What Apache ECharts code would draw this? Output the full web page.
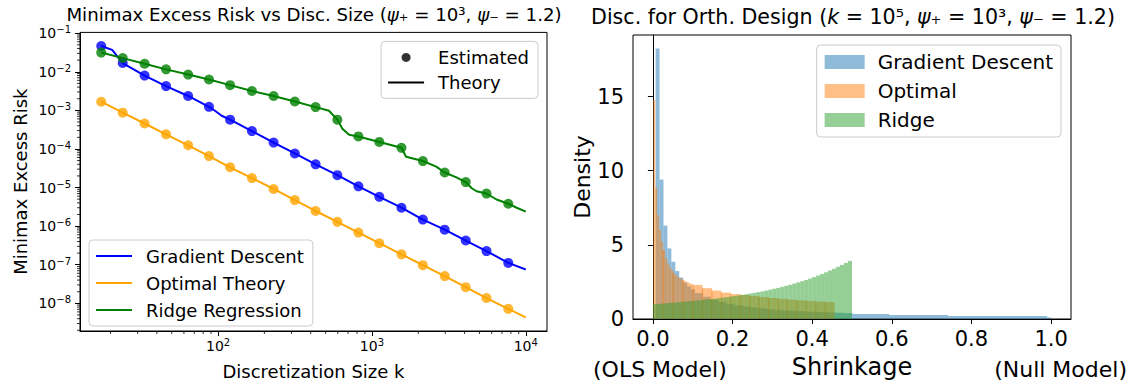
<!DOCTYPE html>
<html>
<head>
<meta charset="utf-8">
<script src="https://cdn.jsdelivr.net/npm/echarts@6.0.0/dist/echarts.min.js"></script>
<style>
html,body{margin:0;padding:0;background:#fff;}
#chart{width:1129px;height:385px;}
</style>
</head>
<body>
<div id="chart"></div>
<script>
// ---------------- Left panel: minimax excess risk ----------------
const kValues = [17.4, 24.0, 33.3, 45.9, 63.9, 87.3, 119.7, 166, 229.6, 315.5, 430.5, 596, 817, 1117, 1556, 2143, 2972, 4073, 5557, 7695];
const gdEstimated = [0.0466, 0.01683, 7.96e-3, 4.25e-3, 2.36e-3, 1.233e-3, 5.74e-4, 2.90e-4, 1.46e-4, 7.64e-5, 4.0e-5, 2.09e-5, 1.077e-5, 5.74e-6, 3.0e-6, 1.48e-6, 8.09e-7, 4.24e-7, 2.26e-7, 1.115e-7];
const optEstimated = [1.675e-3, 8.72e-4, 4.57e-4, 2.39e-4, 1.245e-4, 6.52e-5, 3.35e-5, 1.755e-5, 9.18e-6, 4.73e-6, 2.47e-6, 1.295e-6, 6.82e-7, 3.61e-7, 1.86e-7, 9.73e-8, 5.09e-8, 2.62e-8, 1.37e-8, 7.18e-9];
const ridgeEstimated = [0.0314, 0.0226, 0.01615, 0.01154, 8.45e-3, 6.30e-3, 4.50e-3, 3.17e-3, 2.36e-3, 1.695e-3, 1.213e-3, 5.74e-4, 2.11e-4, 1.52e-4, 1.069e-4, 4.86e-5, 2.45e-5, 1.387e-5, 6.97e-6, 3.80e-6];

const gdTheoryK = [17.4, 20.5, 22.2, 24.0, 33.3, 45.9, 63.9, 87.3, 95.5, 105.5, 119.7, 166, 229.6, 315.5, 430.5, 596, 817, 1117, 1556, 2143, 2972, 4073, 5557, 7695, 10000];
const gdTheoryRisk = [0.0466, 0.0368, 0.0248, 0.01683, 7.96e-3, 4.25e-3, 2.36e-3, 1.233e-3, 9.75e-4, 7.26e-4, 5.74e-4, 2.90e-4, 1.46e-4, 7.64e-5, 4.0e-5, 2.09e-5, 1.077e-5, 5.74e-6, 3.0e-6, 1.48e-6, 8.09e-7, 4.24e-7, 2.26e-7, 1.115e-7, 7.5e-8];
const optTheoryK = [17.4, 24.0, 33.3, 45.9, 63.9, 87.3, 119.7, 166, 229.6, 315.5, 430.5, 596, 817, 1117, 1556, 2143, 2972, 4073, 5557, 7695, 10000];
const optTheoryRisk = [1.675e-3, 8.72e-4, 4.57e-4, 2.39e-4, 1.245e-4, 6.52e-5, 3.35e-5, 1.755e-5, 9.18e-6, 4.73e-6, 2.47e-6, 1.295e-6, 6.82e-7, 3.61e-7, 1.86e-7, 9.73e-8, 5.09e-8, 2.62e-8, 1.37e-8, 7.18e-9, 4.31e-9];
const ridgeTheoryK = [17.4, 24.0, 33.3, 45.9, 63.9, 87.3, 119.7, 166, 229.6, 315.5, 430.5, 526, 596, 643, 711, 817, 1117, 1556, 1667, 2143, 2618, 2972, 3540, 4073, 4436, 4786, 5557, 6460, 7695, 8730, 10000];
const ridgeTheoryRisk = [0.0314, 0.0226, 0.01615, 0.01154, 8.45e-3, 6.30e-3, 4.50e-3, 3.17e-3, 2.36e-3, 1.695e-3, 1.213e-3, 9.75e-4, 5.74e-4, 3.33e-4, 2.33e-4, 2.11e-4, 1.52e-4, 1.069e-4, 6.30e-5, 4.86e-5, 3.49e-5, 2.45e-5, 1.83e-5, 1.387e-5, 9.75e-6, 8.02e-6, 6.97e-6, 4.90e-6, 3.80e-6, 3.0e-6, 2.38e-6];

const xMinorTicks = [20, 30, 40, 50, 60, 70, 80, 90, 200, 300, 400, 500, 600, 700, 800, 900, 2000, 3000, 4000, 5000, 6000, 7000, 8000, 9000];
const yMinorTicks = [2e-9,3e-9,4e-9,5e-9,6e-9,7e-9,8e-9,9e-9, 2e-8,3e-8,4e-8,5e-8,6e-8,7e-8,8e-8,9e-8, 2e-7,3e-7,4e-7,5e-7,6e-7,7e-7,8e-7,9e-7, 2e-6,3e-6,4e-6,5e-6,6e-6,7e-6,8e-6,9e-6, 2e-5,3e-5,4e-5,5e-5,6e-5,7e-5,8e-5,9e-5, 2e-4,3e-4,4e-4,5e-4,6e-4,7e-4,8e-4,9e-4, 2e-3,3e-3,4e-3,5e-3,6e-3,7e-3,8e-3,9e-3, 2e-2,3e-2,4e-2,5e-2,6e-2,7e-2,8e-2,9e-2];

// ---------------- Right panel: shrinkage histograms ----------------
const gdEdges = [0.0068, 0.0167, 0.0266, 0.0365, 0.0464, 0.0563, 0.0662, 0.0761, 0.086, 0.0959, 0.1058, 0.1256, 0.1454, 0.1652, 0.185, 0.2048, 0.2246, 0.2444, 0.2642, 0.284, 0.3038, 0.3236, 0.3434, 0.3632, 0.383, 0.4028, 0.4226, 0.4424, 0.4622, 0.482, 0.5018, 0.593, 0.742, 0.99, 1.0];
const gdDensity = [18.24, 9.4, 6.3, 4.76, 3.86, 3.23, 2.8, 2.45, 2.2, 2.0, 1.75, 1.5, 1.3, 1.15, 1.02, 0.92, 0.84, 0.78, 0.72, 0.67, 0.63, 0.59, 0.56, 0.53, 0.5, 0.48, 0.46, 0.44, 0.42, 0.40, 0.34, 0.27, 0.20, 0.11];
const optEdges = [0.0008, 0.0058, 0.0108, 0.0158, 0.0208, 0.0258, 0.0308, 0.0358, 0.0408, 0.0458, 0.0508, 0.0558, 0.0608, 0.0658, 0.0708, 0.0758, 0.0808, 0.0858, 0.0908, 0.0958, 0.1008, 0.1245, 0.1482, 0.1719, 0.1956, 0.2193, 0.243, 0.2667, 0.2904, 0.3141, 0.3378, 0.3615, 0.3852, 0.4089, 0.4326, 0.4563];
const optDensity = [14.76, 8.87, 7.0, 6.0, 5.2, 4.65, 4.1, 3.75, 3.5, 3.3, 3.1, 2.95, 2.85, 2.75, 2.68, 2.6, 2.53, 2.47, 2.41, 2.36, 2.3, 2.08, 1.92, 1.78, 1.68, 1.62, 1.55, 1.48, 1.42, 1.36, 1.31, 1.26, 1.22, 1.18, 1.15];
const ridgeEdges = [0, 0.01, 0.02, 0.03, 0.04, 0.05, 0.06, 0.07, 0.08, 0.09, 0.1, 0.11, 0.12, 0.13, 0.14, 0.15, 0.16, 0.17, 0.18, 0.19, 0.2, 0.21, 0.22, 0.23, 0.24, 0.25, 0.26, 0.27, 0.28, 0.29, 0.3, 0.31, 0.32, 0.33, 0.34, 0.35, 0.36, 0.37, 0.38, 0.39, 0.4, 0.41, 0.42, 0.43, 0.44, 0.45, 0.46, 0.47, 0.48, 0.49, 0.5];
const ridgeDensity = [0.99, 1.01, 1.04, 1.06, 1.09, 1.11, 1.14, 1.16, 1.18, 1.21, 1.23, 1.26, 1.28, 1.31, 1.34, 1.37, 1.40, 1.44, 1.47, 1.51, 1.55, 1.59, 1.63, 1.67, 1.72, 1.76, 1.81, 1.86, 1.92, 1.98, 2.04, 2.10, 2.17, 2.24, 2.31, 2.39, 2.47, 2.55, 2.63, 2.73, 2.83, 2.93, 3.04, 3.15, 3.27, 3.39, 3.52, 3.65, 3.78, 3.92];
const shrinkTicks = [0, 0.2, 0.4, 0.6, 0.8, 1.0];

// ---------------- helpers ----------------
const FONT = 'DejaVu Sans';
const pairs = (xs, ys) => xs.map((x, i) => [x, ys[i]]);
const bins = (edges, dens) => dens.map((d, i) => [edges[i], edges[i + 1], d]);
function powLabel(v) {
  const e = Math.log10(v), r = Math.round(e);
  if (Math.abs(e - r) > 1e-6) return '';
  return '{b|10}{s|' + String(r).replace('-', '\u2212') + '}';
}
const powRich = {
  b: {fontSize: 14, lineHeight: 14, fontFamily: FONT, color: '#000'},
  s: {fontSize: 10, lineHeight: 10, fontFamily: FONT, color: '#000', padding: [0, 0, 7, 0]}
};
function logPad(lo, hi) {
  const a = Math.log10(lo), b = Math.log10(hi), m = (b - a) * 0.05;
  return [Math.pow(10, a - m), Math.pow(10, b + m)];
}
const allK = kValues.concat(gdTheoryK, optTheoryK, ridgeTheoryK);
const allRisk = gdEstimated.concat(optEstimated, ridgeEstimated, gdTheoryRisk, optTheoryRisk, ridgeTheoryRisk);
const xr = logPad(Math.min(...allK), Math.max(...allK));
const yr = logPad(Math.min(...allRisk), Math.max(...allRisk));
const hx0 = Math.min(gdEdges[0], optEdges[0], ridgeEdges[0]);
const hx1 = Math.max(gdEdges[gdEdges.length - 1], optEdges[optEdges.length - 1], ridgeEdges[ridgeEdges.length - 1]);
const hxr = [hx0 - (hx1 - hx0) * 0.05, hx1 + (hx1 - hx0) * 0.05];
const hyMax = Math.max(...gdDensity, ...optDensity, ...ridgeDensity) * 1.05;

function histRender(seams) {
  return function (params, api) {
    const x0 = api.value(0), x1 = api.value(1), h = api.value(2);
    const p0 = api.coord([x0, h]);
    const p1 = api.coord([x1, 0]);
    const color = api.visual('color');
    const children = [{
      type: 'rect',
      shape: {x: p0[0], y: p0[1], width: p1[0] - p0[0], height: p1[1] - p0[1]},
      style: {fill: color}
    }];
    if (seams && params.dataIndex > 0 && ((x1 - x0) > 0.01 || params.dataIndex % 5 === 0)) {
      children.push({
        type: 'line',
        shape: {x1: p0[0], y1: p0[1], x2: p0[0], y2: p1[1]},
        style: {stroke: 'rgba(240,120,10,0.55)', lineWidth: 1}
      });
    }
    return {type: 'group', children: children};
  };
}

const chart = echarts.init(document.getElementById('chart'), null, {renderer: 'svg', width: 1129, height: 385});

const axisCommon = {
  splitLine: {show: false},
  axisLine: {show: true, lineStyle: {color: '#000', width: 1}},
  axisTick: {show: true, length: 5, lineStyle: {color: '#000', width: 1}},
};
const legendBox = {borderColor: '#cccccc', borderWidth: 1, borderRadius: 4, backgroundColor: 'rgba(255,255,255,0.8)', selectedMode: false, orient: 'vertical'};

const option = {
  animation: false,
  backgroundColor: '#fff',
  textStyle: {fontFamily: FONT},
  grid: [
    {left: 80, top: 32.4, width: 467, height: 302.6, show: true, borderColor: '#000', borderWidth: 1, containLabel: false},
    {left: 633, top: 35, width: 438, height: 284, show: true, borderColor: '#000', borderWidth: 1, containLabel: false}
  ],
  xAxis: [
    Object.assign({}, axisCommon, {
      type: 'log', logBase: 10, gridIndex: 0, min: xr[0], max: xr[1],
      axisLabel: {formatter: powLabel, rich: powRich, showMinLabel: false, showMaxLabel: false, color: '#000', margin: 8, fontFamily: FONT},
      name: 'Discretization Size k', nameLocation: 'middle', nameGap: 31,
      nameTextStyle: {fontSize: 18, color: '#000', fontFamily: FONT}
    }),
    Object.assign({}, axisCommon, {
      type: 'value', gridIndex: 1, min: hxr[0], max: hxr[1], splitNumber: 5,
      axisLabel: {formatter: v => shrinkTicks.some(t => Math.abs(t - v) < 1e-9) ? v.toFixed(1) : '', showMinLabel: false, showMaxLabel: false, fontSize: 21, color: '#000', margin: 9, fontFamily: FONT},
      name: 'Shrinkage', nameLocation: 'middle', nameGap: 36,
      nameTextStyle: {fontSize: 24, color: '#000', fontFamily: FONT}
    })
  ],
  yAxis: [
    Object.assign({}, axisCommon, {
      type: 'log', logBase: 10, gridIndex: 0, min: yr[0], max: yr[1],
      axisLabel: {formatter: powLabel, rich: powRich, showMinLabel: false, showMaxLabel: false, color: '#000', margin: 9, fontFamily: FONT},
      name: 'Minimax Excess Risk', nameLocation: 'middle', nameGap: 51, nameRotate: 90,
      nameTextStyle: {fontSize: 18, color: '#000', fontFamily: FONT}
    }),
    Object.assign({}, axisCommon, {
      type: 'value', gridIndex: 1, min: 0, max: hyMax, interval: 5,
      axisLabel: {showMaxLabel: false, fontSize: 21, color: '#000', margin: 9, fontFamily: FONT},
      name: 'Density', nameLocation: 'middle', nameGap: 28, nameRotate: 90,
      nameTextStyle: {fontSize: 22, color: '#000', fontFamily: FONT}
    })
  ],
  legend: [
    Object.assign({}, legendBox, {
      data: [
        {name: 'Estimated', icon: 'circle', itemStyle: {color: '#000'}},
        {name: 'Theory', icon: 'path://M0,0H36V2H0Z', itemStyle: {color: '#000'}}
      ],
      right: 591, top: 41.4,
      itemWidth: 36, itemHeight: 9, itemGap: 7, padding: [7, 9, 7, 7],
      textStyle: {fontSize: 18, lineHeight: 18, color: '#000', fontFamily: FONT, padding: [0, 0, 0, 9]}
    }),
    Object.assign({}, legendBox, {
      data: [{name: 'Gradient Descent', icon: 'rect'}, {name: 'Optimal Theory', icon: 'rect'}, {name: 'Ridge Regression', icon: 'rect'}],
      left: 89, bottom: 59,
      itemWidth: 36, itemHeight: 2, itemGap: 9, padding: [7, 9, 7, 7],
      textStyle: {fontSize: 18, lineHeight: 18, color: '#000', fontFamily: FONT, padding: [0, 0, 0, 9]}
    }),
    Object.assign({}, legendBox, {
      data: [{name: 'Gradient Descent ', icon: 'rect'}, {name: 'Optimal ', icon: 'rect'}, {name: 'Ridge ', icon: 'rect'}],
      formatter: n => n.trim(),
      right: 68, top: 45,
      itemWidth: 40, itemHeight: 14, itemGap: 9, padding: [7, 8, 7, 8],
      textStyle: {fontSize: 20, lineHeight: 20, color: '#000', fontFamily: FONT, padding: [0, 0, 0, 8]}
    })
  ],
  graphic: [
    {type: 'text', x: 314, y: 14.5, silent: true, style: {
      text: 'Minimax Excess Risk vs Disc. Size ({i|\u03C8}\u208A = 10\u00B3, {i|\u03C8}\u208B = 1.2)',
      rich: {i: {fontStyle: 'italic', fontSize: 18.2, lineHeight: 16, fontFamily: FONT, fill: '#000'}},
      fontSize: 18.2, lineHeight: 16, fontFamily: FONT, fill: '#000', align: 'center', verticalAlign: 'middle'}},
    {type: 'text', x: 853, y: 17, silent: true, style: {
      text: 'Disc. for Orth. Design ({i|k} = 10\u2075, {i|\u03C8}\u208A = 10\u00B3, {i|\u03C8}\u208B = 1.2)',
      rich: {i: {fontStyle: 'italic', fontSize: 20.6, fontFamily: FONT, fill: '#000'}},
      fontSize: 20.6, fontFamily: FONT, fill: '#000', align: 'center', verticalAlign: 'middle'}},
    {type: 'text', x: 593, y: 369, silent: true, style: {text: '(OLS Model)', fontSize: 22, fontFamily: FONT, fill: '#000', align: 'left', verticalAlign: 'middle'}},
    {type: 'text', x: 1127, y: 369, silent: true, style: {text: '(Null Model)', fontSize: 22, fontFamily: FONT, fill: '#000', align: 'right', verticalAlign: 'middle'}}
  ],
  series: [
    {name: 'Gradient Descent', type: 'line', xAxisIndex: 0, yAxisIndex: 0, data: pairs(gdTheoryK, gdTheoryRisk), symbol: 'none', color: '#0000ff', lineStyle: {width: 2}, z: 2},
    {name: 'Optimal Theory', type: 'line', xAxisIndex: 0, yAxisIndex: 0, data: pairs(optTheoryK, optTheoryRisk), symbol: 'none', color: '#ffa500', lineStyle: {width: 2}, z: 2},
    {name: 'Ridge Regression', type: 'line', xAxisIndex: 0, yAxisIndex: 0, data: pairs(ridgeTheoryK, ridgeTheoryRisk), symbol: 'none', color: '#008000', lineStyle: {width: 2}, z: 2},
    {name: 'GD estimated', type: 'scatter', xAxisIndex: 0, yAxisIndex: 0, data: pairs(kValues, gdEstimated), symbolSize: 10, color: '#0000ff', z: 3},
    {name: 'Optimal estimated', type: 'scatter', xAxisIndex: 0, yAxisIndex: 0, data: pairs(kValues, optEstimated), symbolSize: 10, color: '#ffa500', z: 3},
    {name: 'Ridge estimated', type: 'scatter', xAxisIndex: 0, yAxisIndex: 0, data: pairs(kValues, ridgeEstimated), symbolSize: 10, color: '#008000', z: 3},
    {name: 'Estimated', type: 'scatter', xAxisIndex: 0, yAxisIndex: 0, data: [], color: '#000'},
    {name: 'Theory', type: 'line', xAxisIndex: 0, yAxisIndex: 0, data: [], symbol: 'none', color: '#000', lineStyle: {width: 2}},
    {name: 'x minor ticks', type: 'custom', xAxisIndex: 0, yAxisIndex: 0, silent: true, clip: false,
      data: xMinorTicks.map(v => [v, 1e-4]),
      renderItem: (params, api) => {
        const cs = params.coordSys;
        const x = api.coord([api.value(0), api.value(1)])[0];
        return {type: 'line', shape: {x1: x, y1: cs.y + cs.height, x2: x, y2: cs.y + cs.height + 3}, style: {stroke: '#000', lineWidth: 0.8}};
      }},
    {name: 'y minor ticks', type: 'custom', xAxisIndex: 0, yAxisIndex: 0, silent: true, clip: false,
      data: yMinorTicks.map(v => [100, v]),
      renderItem: (params, api) => {
        const cs = params.coordSys;
        const y = api.coord([api.value(0), api.value(1)])[1];
        return {type: 'line', shape: {x1: cs.x - 3, y1: y, x2: cs.x, y2: y}, style: {stroke: '#000', lineWidth: 0.8}};
      }},
    {name: 'Gradient Descent ', type: 'custom', xAxisIndex: 1, yAxisIndex: 1, data: bins(gdEdges, gdDensity),
      encode: {x: [0, 1], y: 2}, itemStyle: {color: 'rgba(31,119,180,0.5)'}, renderItem: histRender(false)},
    {name: 'Optimal ', type: 'custom', xAxisIndex: 1, yAxisIndex: 1, data: bins(optEdges, optDensity),
      encode: {x: [0, 1], y: 2}, itemStyle: {color: 'rgba(255,127,14,0.5)'}, renderItem: histRender(true)},
    {name: 'Ridge ', type: 'custom', xAxisIndex: 1, yAxisIndex: 1, data: bins(ridgeEdges, ridgeDensity),
      encode: {x: [0, 1], y: 2}, itemStyle: {color: 'rgba(44,160,44,0.5)'}, renderItem: histRender(false)}
  ]
};
chart.setOption(option);
</script>
</body>
</html>
